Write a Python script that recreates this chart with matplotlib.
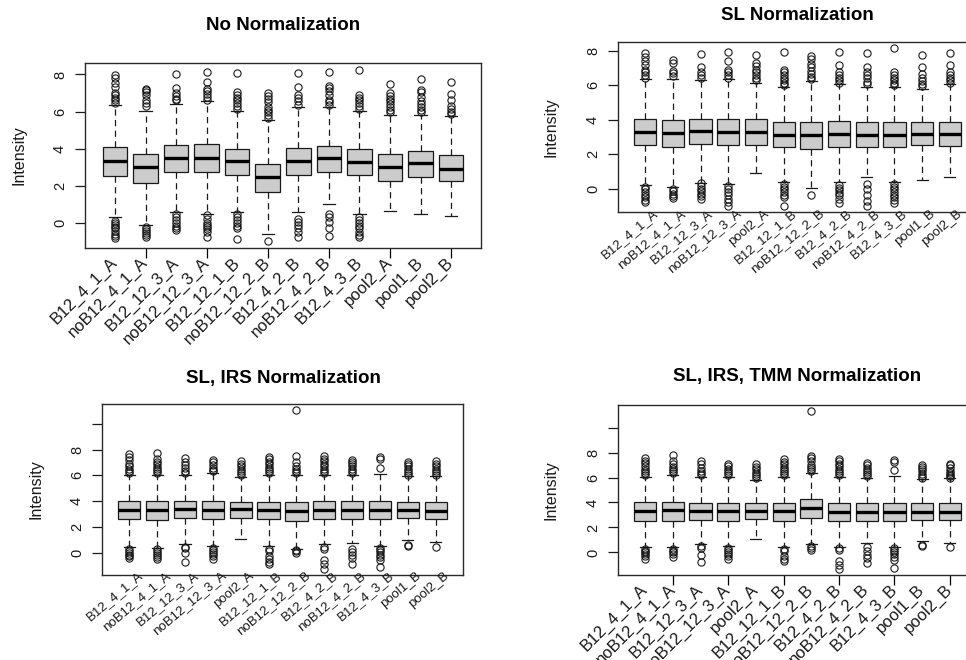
import matplotlib
matplotlib.use("Agg")
import matplotlib.pyplot as plt
from matplotlib import transforms

plt.rcParams['font.family'] = ['Liberation Sans', 'DejaVu Sans']

# sample order for the raw panel and for the normalized panels
samples_raw = ["B12_4_1_A", "noB12_4_1_A", "B12_12_3_A", "noB12_12_3_A", "B12_12_1_B",
               "noB12_12_2_B", "B12_4_2_B", "noB12_4_2_B", "B12_4_3_B", "pool2_A",
               "pool1_B", "pool2_B"]
samples = ["B12_4_1_A", "noB12_4_1_A", "B12_12_3_A", "noB12_12_3_A", "pool2_A",
           "B12_12_1_B", "noB12_12_2_B", "B12_4_2_B", "noB12_4_2_B", "B12_4_3_B",
           "pool1_B", "pool2_B"]

# ---- No normalization (log intensities) ----
raw_q1 = [2.52, 2.16, 2.74, 2.72, 2.59, 1.66, 2.56, 2.74, 2.56, 2.25, 2.47, 2.23]
raw_med = [3.32, 3.01, 3.50, 3.50, 3.32, 2.47, 3.32, 3.50, 3.28, 3.01, 3.23, 2.92]
raw_q3 = [4.09, 3.73, 4.22, 4.25, 3.96, 3.19, 4.05, 4.14, 3.96, 3.73, 3.86, 3.64]
raw_lo = [0.31, -0.14, 0.58, 0.49, 0.58, -0.63, 0.58, 1.03, 0.49, 0.63, 0.49, 0.36]
raw_hi = [6.38, 6.04, 6.43, 6.56, 6.04, 5.53, 6.25, 6.25, 6.04, 5.84, 5.84, 5.75]
raw_out = [
    [6.45, 6.6, 6.75, 6.9, 7.0, 7.3, 7.55, 7.8, 7.95, 0.1, 0.0, -0.1, -0.2, -0.3, -0.45, -0.6, -0.7, -0.8],
    [6.3, 6.45, 6.6, 6.9, 7.05, 7.15, 7.2, -0.25, -0.35, -0.45, -0.55, -0.65, -0.75],
    [6.6, 6.7, 6.85, 7.0, 7.25, 8.0, 0.45, 0.3, 0.15, 0.0, -0.15, -0.3, -0.4],
    [6.65, 6.8, 6.95, 7.1, 7.2, 7.6, 8.15, 0.4, 0.2, 0.0, -0.1, -0.2, -0.35, -0.5, -0.75],
    [6.15, 6.3, 6.45, 6.6, 6.75, 6.9, 7.05, 8.1, 0.45, 0.3, 0.15, 0.0, -0.15, -0.3, -0.85],
    [5.65, 5.8, 5.95, 6.1, 6.25, 6.5, 6.7, 6.85, 7.0, -0.99],
    [6.35, 6.55, 6.75, 6.9, 7.3, 8.1, 0.2, 0.05, -0.1, -0.3, -0.5, -0.75],
    [6.35, 6.5, 6.65, 6.9, 7.1, 7.25, 7.4, 8.15, 0.5, 0.3, 0.05, -0.3, -0.7],
    [6.15, 6.3, 6.45, 6.6, 6.75, 6.9, 8.25, 0.3, 0.15, 0.0, -0.15, -0.3, -0.5, -0.65, -0.75],
    [5.95, 6.1, 6.25, 6.4, 6.55, 6.7, 6.85, 7.0, 7.5],
    [5.95, 6.1, 6.25, 6.4, 6.55, 6.8, 7.05, 7.15, 7.75],
    [5.85, 6.0, 6.15, 6.3, 6.6, 6.95, 7.6],
]

# ---- SL normalization ----
sl_q1 = [2.50, 2.44, 2.56, 2.50, 2.50, 2.44, 2.30, 2.44, 2.44, 2.44, 2.50, 2.48]
sl_med = [3.28, 3.22, 3.32, 3.28, 3.28, 3.12, 3.12, 3.16, 3.12, 3.12, 3.18, 3.14]
sl_q3 = [4.06, 3.96, 4.06, 4.06, 4.06, 3.84, 3.86, 3.90, 3.84, 3.84, 3.84, 3.86]
sl_lo = [0.23, 0.10, 0.33, 0.25, 0.88, 0.39, 0.04, 0.39, 0.68, 0.39, 0.49, 0.64]
sl_hi = [6.34, 6.34, 6.30, 6.34, 6.15, 5.91, 6.24, 6.05, 5.91, 5.91, 5.81, 6.05]
sl_out = [
    [6.45, 6.6, 6.75, 6.9, 7.15, 7.4, 7.65, 7.9, 0.1, -0.05, -0.2, -0.35, -0.5, -0.65, -0.8],
    [6.55, 6.7, 6.85, 7.3, 7.45, 0.0, -0.15, -0.3, -0.45, -0.55],
    [6.45, 6.6, 6.8, 7.05, 7.8, 0.3, 0.15, 0.0, -0.15, -0.3, -0.45, -0.6],
    [6.45, 6.6, 6.75, 6.9, 7.4, 7.95, 0.15, 0.0, -0.2, -0.4, -0.6, -0.8, -1.0],
    [6.3, 6.45, 6.6, 6.75, 6.9, 7.1, 7.3, 7.75],
    [6.0, 6.15, 6.3, 6.45, 6.6, 6.75, 6.9, 7.95, 0.25, 0.1, -0.05, -0.2, -0.35, -0.5, -1.0],
    [6.35, 6.5, 6.65, 6.85, 7.05, 7.25, 7.5, 7.7, -0.35],
    [6.15, 6.3, 6.45, 6.6, 6.8, 7.15, 7.95, 0.2, 0.05, -0.1, -0.25, -0.4, -0.6, -0.85],
    [6.05, 6.2, 6.4, 6.6, 6.8, 7.05, 7.85, 0.25, -0.05, -0.35, -0.7, -1.0],
    [6.0, 6.15, 6.3, 6.45, 6.6, 6.8, 8.15, 0.25, 0.1, -0.05, -0.2, -0.35, -0.5, -0.65, -0.85],
    [5.95, 6.1, 6.25, 6.45, 6.65, 7.05, 7.75],
    [6.15, 6.3, 6.45, 6.6, 6.8, 7.2, 7.85],
]

# ---- SL + IRS normalization ----
irs_q1 = [2.58, 2.53, 2.66, 2.58, 2.71, 2.58, 2.48, 2.58, 2.58, 2.58, 2.66, 2.61]
irs_med = [3.31, 3.31, 3.39, 3.31, 3.36, 3.31, 3.26, 3.31, 3.31, 3.31, 3.31, 3.26]
irs_q3 = [4.04, 3.99, 4.04, 3.99, 3.96, 3.96, 3.96, 4.01, 4.01, 4.01, 3.96, 3.96]
irs_lo = [0.44, 0.39, 0.63, 0.50, 1.02, 0.50, 0.31, 0.63, 0.76, 0.50, 0.96, 0.83]
irs_hi = [6.05, 6.05, 6.05, 6.18, 5.86, 6.05, 6.05, 6.05, 6.05, 6.12, 5.92, 5.92]
irs_out = [
    [6.2, 6.35, 6.5, 6.7, 6.9, 7.2, 7.45, 7.65, 0.3, 0.15, 0.0, -0.15, -0.3, -0.45],
    [6.2, 6.35, 6.5, 6.65, 6.85, 7.0, 7.25, 7.75, 0.25, 0.1, -0.05, -0.2, -0.35, -0.5],
    [6.2, 6.35, 6.55, 6.8, 7.05, 7.35, 0.45, 0.35, 0.0, -0.7],
    [6.3, 6.45, 6.6, 6.8, 7.0, 7.2, 0.35, 0.2, 0.05, -0.1, -0.3, -0.5],
    [6.0, 6.15, 6.3, 6.5, 6.7, 6.9, 7.1],
    [6.2, 6.35, 6.5, 6.65, 6.85, 7.05, 7.25, 7.45, 0.3, 0.1, -0.3, -0.5, -0.7, -0.85],
    [6.2, 6.35, 6.5, 6.7, 7.0, 7.5, 11.05, 0.2, 0.1, 0.0],
    [6.2, 6.35, 6.5, 6.7, 6.9, 7.1, 7.3, 7.5, 0.45, 0.3, -0.6, -0.9, -1.25],
    [6.2, 6.35, 6.5, 6.7, 6.9, 7.05, 7.2, 0.3, 0.05, -0.2, -0.45, -0.85],
    [6.6, 7.25, 7.4, 0.35, 0.2, 0.05, -0.15, -0.35, -0.55, -1.15],
    [6.0, 6.15, 6.3, 6.5, 6.7, 6.9, 7.05, 0.6, 0.5],
    [6.0, 6.15, 6.3, 6.5, 6.7, 6.9, 7.1, 0.45],
]

# ---- SL + IRS + TMM normalization ----
tmm_q1 = [2.53, 2.53, 2.59, 2.53, 2.64, 2.51, 2.77, 2.53, 2.51, 2.51, 2.59, 2.59]
tmm_med = [3.31, 3.39, 3.31, 3.31, 3.31, 3.31, 3.57, 3.25, 3.25, 3.25, 3.25, 3.25]
tmm_q3 = [4.00, 4.05, 3.97, 3.97, 3.92, 3.92, 4.24, 3.92, 3.92, 3.97, 3.92, 3.92]
tmm_lo = [0.45, 0.40, 0.64, 0.51, 1.04, 0.45, 0.64, 0.45, 0.72, 0.45, 0.91, 0.77]
tmm_hi = [6.05, 6.19, 6.05, 6.05, 5.79, 6.05, 6.40, 6.05, 6.00, 6.11, 5.87, 6.00]
tmm_out = [
    [6.2, 6.35, 6.5, 6.7, 6.9, 7.15, 7.35, 7.55, 0.3, 0.15, 0.0, -0.15, -0.3, -0.5],
    [6.35, 6.5, 6.65, 6.85, 7.05, 7.3, 7.8, 0.3, 0.15, 0.0, -0.15, -0.35],
    [6.2, 6.35, 6.55, 6.8, 7.05, 7.3, 0.5, 0.35, -0.2, -0.8],
    [6.2, 6.35, 6.5, 6.7, 6.9, 7.1, 0.35, 0.2, 0.05, -0.1, -0.3, -0.5],
    [5.95, 6.1, 6.25, 6.45, 6.65, 6.85, 7.05],
    [6.2, 6.35, 6.5, 6.65, 6.85, 7.05, 7.25, 7.45, 0.3, 0.15, -0.3, -0.5, -0.7],
    [6.55, 6.7, 6.85, 7.0, 7.3, 7.55, 7.75, 11.3, 0.5, 0.35, 0.2],
    [6.2, 6.35, 6.5, 6.7, 6.9, 7.1, 7.3, 7.45, 0.35, 0.2, -0.7, -1.0, -1.3],
    [6.15, 6.3, 6.45, 6.6, 6.8, 7.0, 7.15, 0.4, 0.15, -0.2, -0.45, -0.85],
    [6.6, 7.25, 7.4, 0.35, 0.2, 0.05, -0.15, -0.4, -0.6, -1.25],
    [6.0, 6.15, 6.3, 6.5, 6.7, 6.85, 7.0, 0.6, 0.5],
    [6.0, 6.1, 6.2, 6.35, 6.55, 6.8, 7.0, 7.1, 0.45],
]

W, H = 966, 660
fig = plt.figure(figsize=(W / 100, H / 100), dpi=100)
INK = "#1a1a1a"


def px_rect(left, top, right, bottom):
    return [left / W, 1 - bottom / H, (right - left) / W, (bottom - top) / H]


def panel(rect, title, title_xy, ylab_x, names, q1, med, q3, lo, hi, out,
          big, label_dx, label_dy, label_rot, label_size, yticks, yticklabels):
    ax = fig.add_axes(rect)
    stats = [dict(label=n, q1=a, med=m, q3=b, whislo=l, whishi=h, fliers=f)
             for n, a, m, b, l, h, f in zip(names, q1, med, q3, lo, hi, out)]
    pos = list(range(1, len(names) + 1))
    ax.bxp(stats, positions=pos, widths=0.8, capwidths=0.4, patch_artist=True,
           boxprops=dict(facecolor="#cccccc", edgecolor=INK, linewidth=0.9),
           medianprops=dict(color="black", linewidth=2.4, solid_capstyle="butt"),
           whiskerprops=dict(color=INK, linewidth=0.9, linestyle=(0, (5, 3.5))),
           capprops=dict(color=INK, linewidth=0.9),
           flierprops=dict(marker="o", markerfacecolor="none", markeredgecolor=INK,
                           markersize=5.2, markeredgewidth=0.8))
    allv = lo + hi + [v for f in out for v in f]
    vmin, vmax = min(allv), max(allv)
    pad = 0.04 * (vmax - vmin)
    ax.set_ylim(vmin - pad, vmax + pad)
    ax.set_xlim(0.5 - 0.48, len(names) + 0.5 + 0.48)

    ax.set_yticks(yticks)
    ax.set_yticklabels(yticklabels, rotation=90, va="center")
    ax.tick_params(axis="y", direction="out", length=7, width=0.9, pad=6,
                   labelsize=10.5, colors=INK)
    if big:
        ax.set_xticks(pos[1::2])
        ax.set_xticklabels([])
        ax.tick_params(axis="x", direction="out", length=7, width=0.9)
    else:
        ax.set_xticks([])
    for s in ax.spines.values():
        s.set_linewidth(1.0)
        s.set_color("#2a2a2a")

    trans = transforms.offset_copy(ax.get_xaxis_transform(), fig=fig,
                                   x=label_dx, y=label_dy, units="dots")
    for p, n in zip(pos, names):
        ax.text(p, 0, n, transform=trans, rotation=label_rot, ha="right", va="center",
                rotation_mode="anchor", fontsize=label_size, color=INK, clip_on=False,
                zorder=5)

    fig.text(title_xy[0] / W, 1 - title_xy[1] / H, title, ha="center", va="center",
             fontsize=13.5, fontweight="bold", color="black")
    cy = 1 - (rect[1] + rect[3] / 2)
    fig.text(ylab_x / W, 1 - cy, "Intensity", rotation=90, ha="center", va="center",
             fontsize=11.5, color=INK)
    return ax


top_ticks = [0, 2, 4, 6, 8]
top_labels = ["0", "2", "4", "6", "8"]
bot_ticks = [0, 2, 4, 6, 8, 10]
bot_labels = ["0", "2", "4", "6", "8", ""]

panel(px_rect(85, 63, 481, 248), "No Normalization", (283, 25), 19,
      samples_raw, raw_q1, raw_med, raw_q3, raw_lo, raw_hi, raw_out,
      True, 0, -12, 45, 12, top_ticks, top_labels)
panel(px_rect(618, 42, 977, 212), "SL Normalization", (797, 15), 551,
      samples, sl_q1, sl_med, sl_q3, sl_lo, sl_hi, sl_out,
      False, 11, 0, 40, 9.5, top_ticks, top_labels)
panel(px_rect(102, 404, 463, 575), "SL, IRS Normalization", (283, 378), 36,
      samples, irs_q1, irs_med, irs_q3, irs_lo, irs_hi, irs_out,
      False, 12, 1, 40, 9.5, bot_ticks, bot_labels)
panel(px_rect(618, 405, 977, 575), "SL, IRS, TMM Normalization", (797, 377), 551,
      samples, tmm_q1, tmm_med, tmm_q3, tmm_lo, tmm_hi, tmm_out,
      True, 0, -12, 45, 12, bot_ticks, bot_labels)

fig.savefig("out.png", dpi=100)
